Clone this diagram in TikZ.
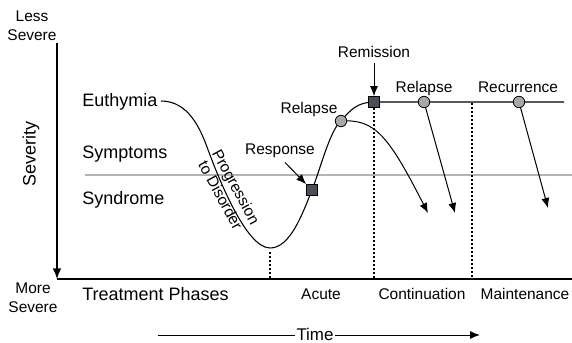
\documentclass[tikz,border=0pt]{standalone}
\usepackage{fontspec}
\setmainfont{Liberation Sans}
\usetikzlibrary{arrows.meta,calc}
\definecolor{sqgray}{HTML}{4A4F55}
\definecolor{dotgray}{HTML}{A8A8A8}
\definecolor{refgray}{HTML}{B4B4B4}
\begin{document}
\begin{tikzpicture}[x=0.75pt,y=-0.75pt,
 big/.style={font=\fontsize{13.5}{16}\selectfont, inner sep=0pt},
 small/.style={font=\fontsize{11.6}{14}\selectfont, inner sep=0pt},
 arr/.style={-{Latex[length=7.5pt,width=6pt]}, line width=0.75pt},
 curve/.style={line width=0.8pt},
 axis/.style={line width=1pt},
 phase/.style={dash pattern=on 1.5pt off 1.5pt, line width=0.8pt},
 sq/.style={draw, fill=sqgray, minimum size=8.2pt, inner sep=0pt, line width=0.6pt},
 dot/.style={circle, draw, fill=dotgray, minimum size=8.6pt, inner sep=0pt, line width=0.6pt},
]
\useasboundingbox (0,0) rectangle (572,343);

% axes
\coordinate (ytop) at (57,43);
\coordinate (origin) at (57,279);
\coordinate (xend) at (572,279);
\draw[axis] (origin) -- (xend);
\draw[axis,-{Latex[length=8pt,width=6.5pt]}] (ytop) -- (origin);

% axis labels
\node[small, align=center] (less) at (32,26) {Less\\Severe};
\node[small, align=center] (more) at (33,298) {More\\Severe};
\node[big, rotate=90] (sev) at (31,154) {Severity};

% reference gray line
\coordinate (gl) at (85,175);
\coordinate (gr) at (572,175);
\draw[refgray, line width=1.1pt] (gl) -- (gr);

% state labels
\node[big, anchor=base west] (eu) at (82,106) {Euthymia};
\node[big, anchor=base west] (symp) at (82,158) {Symptoms};
\node[big, anchor=base west] (synd) at (82,204) {Syndrome};

% key points
\coordinate (c0) at (161,101);
\coordinate (c1) at (207,147);
\coordinate (cmin) at (270,248);
\coordinate (cresp) at (312,190);
\coordinate (crel) at (341,121);
\coordinate (crem) at (374,102);
\coordinate (crel2) at (424,102);
\coordinate (crec) at (519,102);
\coordinate (lend) at (564,102);

% phase separators
\coordinate (p1b) at (270,278);
\coordinate (p2t) at (374,108);
\coordinate (p2b) at (374,278);
\coordinate (p3t) at (472,103);
\coordinate (p3b) at (472,278);
\draw[phase] ($(cmin)+(0,4)$) -- (p1b);
\draw[phase] (p2t) -- (p2b);
\draw[phase] (p3t) -- (p3b);

% main curve
\draw[curve] (c0) .. controls (188,101) and (200,128) .. (c1)
  .. controls (218,177) and (246,248) .. (cmin)
  .. controls (290,248) and (302,215) .. (cresp)
  .. controls (320,170) and (330,130) .. (crel)
  .. controls (350,110) and (358,102) .. (crem) -- (lend);

% relapse branches
\coordinate (a1) at (428,213);
\coordinate (a2) at (455,213);
\coordinate (a3) at (548,208);
\draw[arr] (crel) .. controls (375,119) and (388,135) .. (a1);
\draw[arr] (crel2) -- (a2);
\draw[arr] (crec) -- (a3);

% markers
\node[sq] (resp) at (cresp) {};
\node[dot] (rel) at (crel) {};
\node[sq] (rem) at (crem) {};
\node[dot] (rel2) at (crel2) {};
\node[dot] (rec) at (crec) {};

% marker labels
\node[small, anchor=base] (lresp) at (280,154) {Response};
\node[small, anchor=base] (lrel) at (309,113) {Relapse};
\node[small, anchor=base] (lrem) at (374,57) {Remission};
\node[small, anchor=base] (lrel2) at (424,92) {Relapse};
\node[small, anchor=base] (lrec) at (518,92) {Recurrence};
\draw[arr] ($(lresp.south)+(5,5)$) -- (resp.north west);
\draw[arr] ($(lrem.south)+(0,6)$) -- (rem.north);

% progression text
\node[small, rotate=-61.5, align=center, font=\fontsize{11.6}{13.2}\selectfont] (prog) at (228.5,191) {Progression\\to Disorder};

% phases
\node[big, anchor=base west] (tp) at (82,300) {Treatment Phases};
\node[small, anchor=base] (acute) at (321,299) {Acute};
\node[small, anchor=base] (cont) at (422,299) {Continuation};
\node[small, anchor=base] (maint) at (525,299) {Maintenance};

% time
\node[font=\fontsize{12.7}{15}\selectfont, inner sep=1pt, anchor=base] (time) at (315,340) {Time};
\coordinate (tl) at (158,335);
\coordinate (tr) at (480,335);
\draw[line width=0.75pt] (tl) -- (tl -| time.west);
\draw[arr] (tr -| time.east) -- (tr);
\end{tikzpicture}
\end{document}
